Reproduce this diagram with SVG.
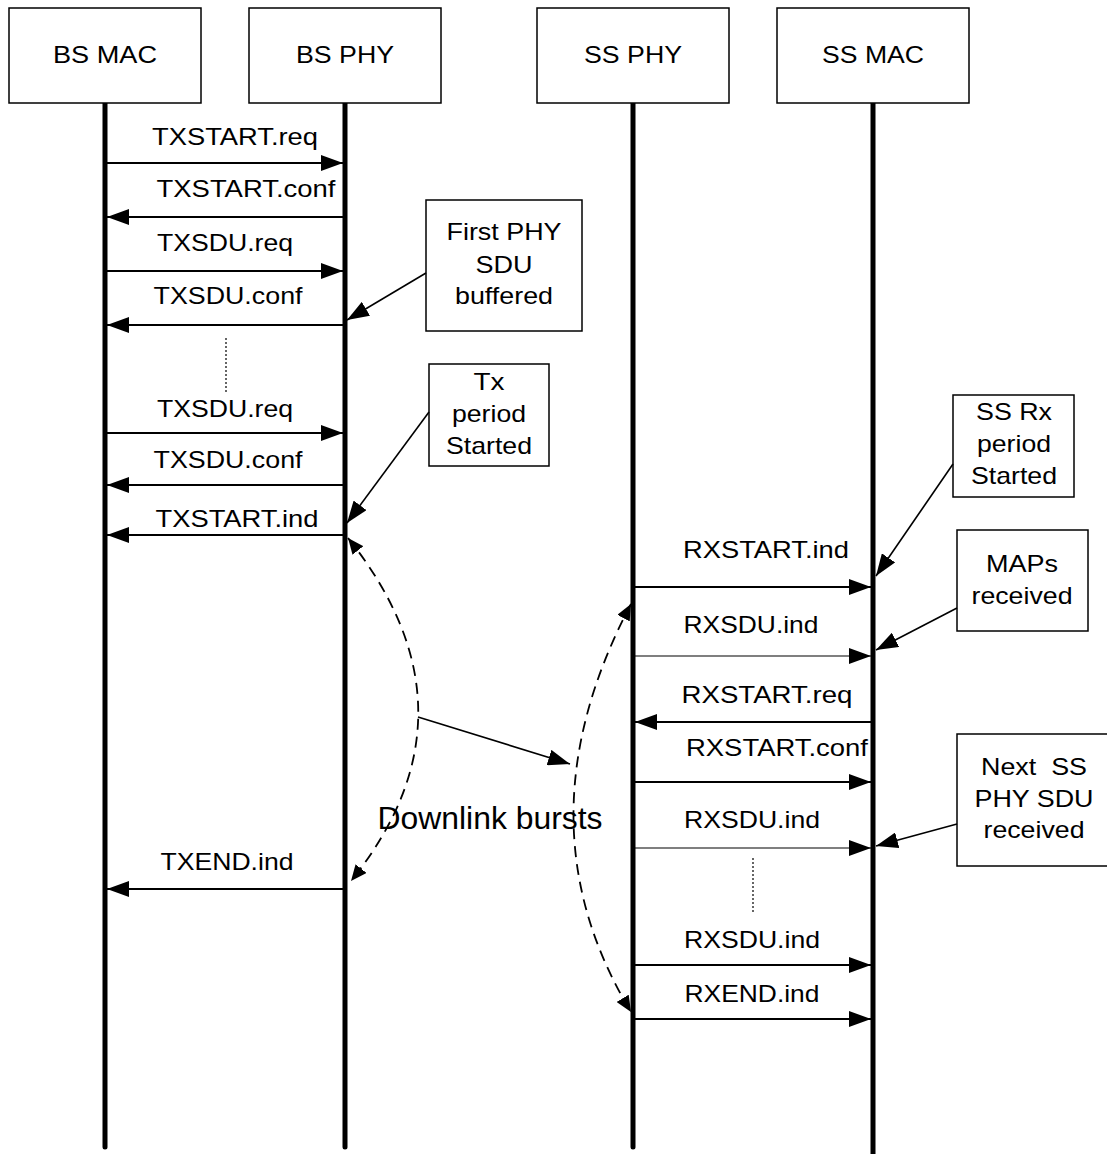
<svg xmlns="http://www.w3.org/2000/svg" width="1107" height="1154" viewBox="0 0 1107 1154">
  <style>
    text { font-family: "Liberation Sans", Arial, sans-serif; font-size: 24px; fill: #000; text-anchor: middle; }
    .box { fill: #fff; stroke: #000; stroke-width: 1.5; }
    .life { stroke: #000; stroke-width: 5; stroke-linecap: round; fill: none; }
    .msg { stroke: #000; stroke-width: 2; fill: none; }
    .thin { stroke: #000; stroke-width: 1.1; fill: none; }
    .note { stroke: #000; stroke-width: 1.6; fill: none; }
    .burst { stroke: #000; stroke-width: 1.8; fill: none; stroke-dasharray: 11 7; }
    .dots { stroke: #000; stroke-width: 1.2; fill: none; stroke-dasharray: 2 2; }
  </style>
  <defs>
    <marker id="arrow" markerUnits="userSpaceOnUse" markerWidth="22" markerHeight="16" refX="22" refY="8" orient="auto-start-reverse" viewBox="0 0 22 16">
      <path d="M0,0 L22,8 L0,16 z" fill="#000"/>
    </marker>
    <marker id="arrowSmall" markerUnits="userSpaceOnUse" markerWidth="16" markerHeight="14" refX="16" refY="7" orient="auto-start-reverse" viewBox="0 0 16 14">
      <path d="M0,0 L16,7 L0,14 z" fill="#000"/>
    </marker>
  </defs>

  <!-- Lifelines -->
  <g id="lifelines">
    <line class="life" x1="105" y1="103" x2="105" y2="1147"/>
    <line class="life" x1="345" y1="103" x2="345" y2="1147"/>
    <line class="life" x1="633" y1="103" x2="633" y2="1147"/>
    <line class="life" x1="873" y1="103" x2="873" y2="1156"/>
  </g>

  <!-- Entity headers -->
  <g id="bs-mac">
    <rect class="box" x="9" y="8" width="192" height="95"/>
    <text x="105" y="63" textLength="104" lengthAdjust="spacingAndGlyphs">BS MAC</text>
  </g>
  <g id="bs-phy">
    <rect class="box" x="249" y="8" width="192" height="95"/>
    <text x="345" y="63" textLength="98" lengthAdjust="spacingAndGlyphs">BS PHY</text>
  </g>
  <g id="ss-phy">
    <rect class="box" x="537" y="8" width="192" height="95"/>
    <text x="633" y="63" textLength="98" lengthAdjust="spacingAndGlyphs">SS PHY</text>
  </g>
  <g id="ss-mac">
    <rect class="box" x="777" y="8" width="192" height="95"/>
    <text x="873" y="63" textLength="102" lengthAdjust="spacingAndGlyphs">SS MAC</text>
  </g>

  <!-- Annotation notes -->
  <g id="note-first-sdu">
    <rect class="box" x="426" y="200" width="156" height="131"/>
    <text x="504" y="240" textLength="115" lengthAdjust="spacingAndGlyphs">First PHY</text>
    <text x="504" y="273" textLength="57" lengthAdjust="spacingAndGlyphs">SDU</text>
    <text x="504" y="304" textLength="98" lengthAdjust="spacingAndGlyphs">buffered</text>
  </g>
  <g id="note-tx-period">
    <rect class="box" x="429" y="364" width="120" height="102"/>
    <text x="489" y="390" textLength="31" lengthAdjust="spacingAndGlyphs">Tx</text>
    <text x="489" y="422" textLength="74" lengthAdjust="spacingAndGlyphs">period</text>
    <text x="489" y="454" textLength="86" lengthAdjust="spacingAndGlyphs">Started</text>
  </g>
  <g id="note-ss-rx-period">
    <rect class="box" x="953" y="395" width="121" height="102"/>
    <text x="1014" y="420" textLength="76" lengthAdjust="spacingAndGlyphs">SS Rx</text>
    <text x="1014" y="452" textLength="74" lengthAdjust="spacingAndGlyphs">period</text>
    <text x="1014" y="484" textLength="86" lengthAdjust="spacingAndGlyphs">Started</text>
  </g>
  <g id="note-maps">
    <rect class="box" x="957" y="530" width="131" height="101"/>
    <text x="1022" y="572" textLength="72" lengthAdjust="spacingAndGlyphs">MAPs</text>
    <text x="1022" y="604" textLength="101" lengthAdjust="spacingAndGlyphs">received</text>
  </g>
  <g id="note-next-sdu">
    <rect class="box" x="957" y="734" width="152" height="132"/>
    <text x="1034" y="775" textLength="106" lengthAdjust="spacingAndGlyphs" style="white-space:pre">Next  SS</text>
    <text x="1034" y="807" textLength="119" lengthAdjust="spacingAndGlyphs">PHY SDU</text>
    <text x="1034" y="838" textLength="101" lengthAdjust="spacingAndGlyphs">received</text>
  </g>

  <!-- Downlink bursts label -->
  <g id="downlink-bursts">
    <text x="490" y="829" style="font-size:31px" textLength="225" lengthAdjust="spacingAndGlyphs">Downlink bursts</text>
  </g>

  <!-- Connectors: primitives, note pointers, burst spans -->
  <g id="connectors">
    <!-- BS MAC <-> BS PHY -->
    <line class="msg" x1="107" y1="163" x2="343" y2="163" marker-end="url(#arrow)"/>
    <line class="msg" x1="343" y1="217" x2="107" y2="217" marker-end="url(#arrow)"/>
    <line class="msg" x1="107" y1="271" x2="343" y2="271" marker-end="url(#arrow)"/>
    <line class="msg" x1="343" y1="325" x2="107" y2="325" marker-end="url(#arrow)"/>
    <line class="dots" x1="226" y1="338" x2="226" y2="392"/>
    <line class="msg" x1="107" y1="433" x2="343" y2="433" marker-end="url(#arrow)"/>
    <line class="msg" x1="343" y1="485" x2="107" y2="485" marker-end="url(#arrow)"/>
    <line class="msg" x1="343" y1="535" x2="107" y2="535" marker-end="url(#arrow)"/>
    <line class="msg" x1="343" y1="889" x2="107" y2="889" marker-end="url(#arrow)"/>

    <!-- SS PHY <-> SS MAC -->
    <line class="msg" x1="635" y1="587" x2="871" y2="587" marker-end="url(#arrow)"/>
    <line class="thin" x1="635" y1="656" x2="871" y2="656" marker-end="url(#arrow)"/>
    <line class="msg" x1="871" y1="722" x2="635" y2="722" marker-end="url(#arrow)"/>
    <line class="msg" x1="635" y1="782" x2="871" y2="782" marker-end="url(#arrow)"/>
    <line class="thin" x1="635" y1="848" x2="871" y2="848" marker-end="url(#arrow)"/>
    <line class="dots" x1="753" y1="858" x2="753" y2="913"/>
    <line class="msg" x1="635" y1="965" x2="871" y2="965" marker-end="url(#arrow)"/>
    <line class="msg" x1="635" y1="1019" x2="871" y2="1019" marker-end="url(#arrow)"/>

    <!-- note pointers -->
    <line class="note" x1="426" y1="273" x2="347" y2="320" marker-end="url(#arrow)"/>
    <line class="note" x1="429" y1="412" x2="347" y2="523" marker-end="url(#arrow)"/>
    <line class="note" x1="953" y1="464" x2="876" y2="576" marker-end="url(#arrow)"/>
    <line class="note" x1="957" y1="608" x2="876" y2="650" marker-end="url(#arrow)"/>
    <line class="note" x1="957" y1="824" x2="876" y2="846" marker-end="url(#arrow)"/>

    <!-- burst spans -->
    <path class="burst" d="M348,538 Q487,712 351,881" marker-start="url(#arrowSmall)" marker-end="url(#arrowSmall)"/>
    <path class="burst" d="M631,604 Q516,822 631,1012" marker-start="url(#arrowSmall)" marker-end="url(#arrowSmall)"/>
    <line class="note" x1="418" y1="717" x2="570" y2="764" marker-end="url(#arrow)"/>
  </g>

  <!-- Primitive labels -->
  <g id="labels">
    <text x="235" y="145" textLength="166" lengthAdjust="spacingAndGlyphs">TXSTART.req</text>
    <text x="246" y="197" textLength="179" lengthAdjust="spacingAndGlyphs">TXSTART.conf</text>
    <text x="225" y="251" textLength="136" lengthAdjust="spacingAndGlyphs">TXSDU.req</text>
    <text x="228" y="304" textLength="149" lengthAdjust="spacingAndGlyphs">TXSDU.conf</text>
    <text x="225" y="417" textLength="136" lengthAdjust="spacingAndGlyphs">TXSDU.req</text>
    <text x="228" y="468" textLength="149" lengthAdjust="spacingAndGlyphs">TXSDU.conf</text>
    <text x="237" y="527" textLength="163" lengthAdjust="spacingAndGlyphs">TXSTART.ind</text>
    <text x="227" y="870" textLength="133" lengthAdjust="spacingAndGlyphs">TXEND.ind</text>
    <text x="766" y="558" textLength="166" lengthAdjust="spacingAndGlyphs">RXSTART.ind</text>
    <text x="751" y="633" textLength="135" lengthAdjust="spacingAndGlyphs">RXSDU.ind</text>
    <text x="767" y="703" textLength="171" lengthAdjust="spacingAndGlyphs">RXSTART.req</text>
    <text x="777" y="756" textLength="182" lengthAdjust="spacingAndGlyphs">RXSTART.conf</text>
    <text x="752" y="828" textLength="136" lengthAdjust="spacingAndGlyphs">RXSDU.ind</text>
    <text x="752" y="948" textLength="136" lengthAdjust="spacingAndGlyphs">RXSDU.ind</text>
    <text x="752" y="1002" textLength="135" lengthAdjust="spacingAndGlyphs">RXEND.ind</text>
  </g>
</svg>
